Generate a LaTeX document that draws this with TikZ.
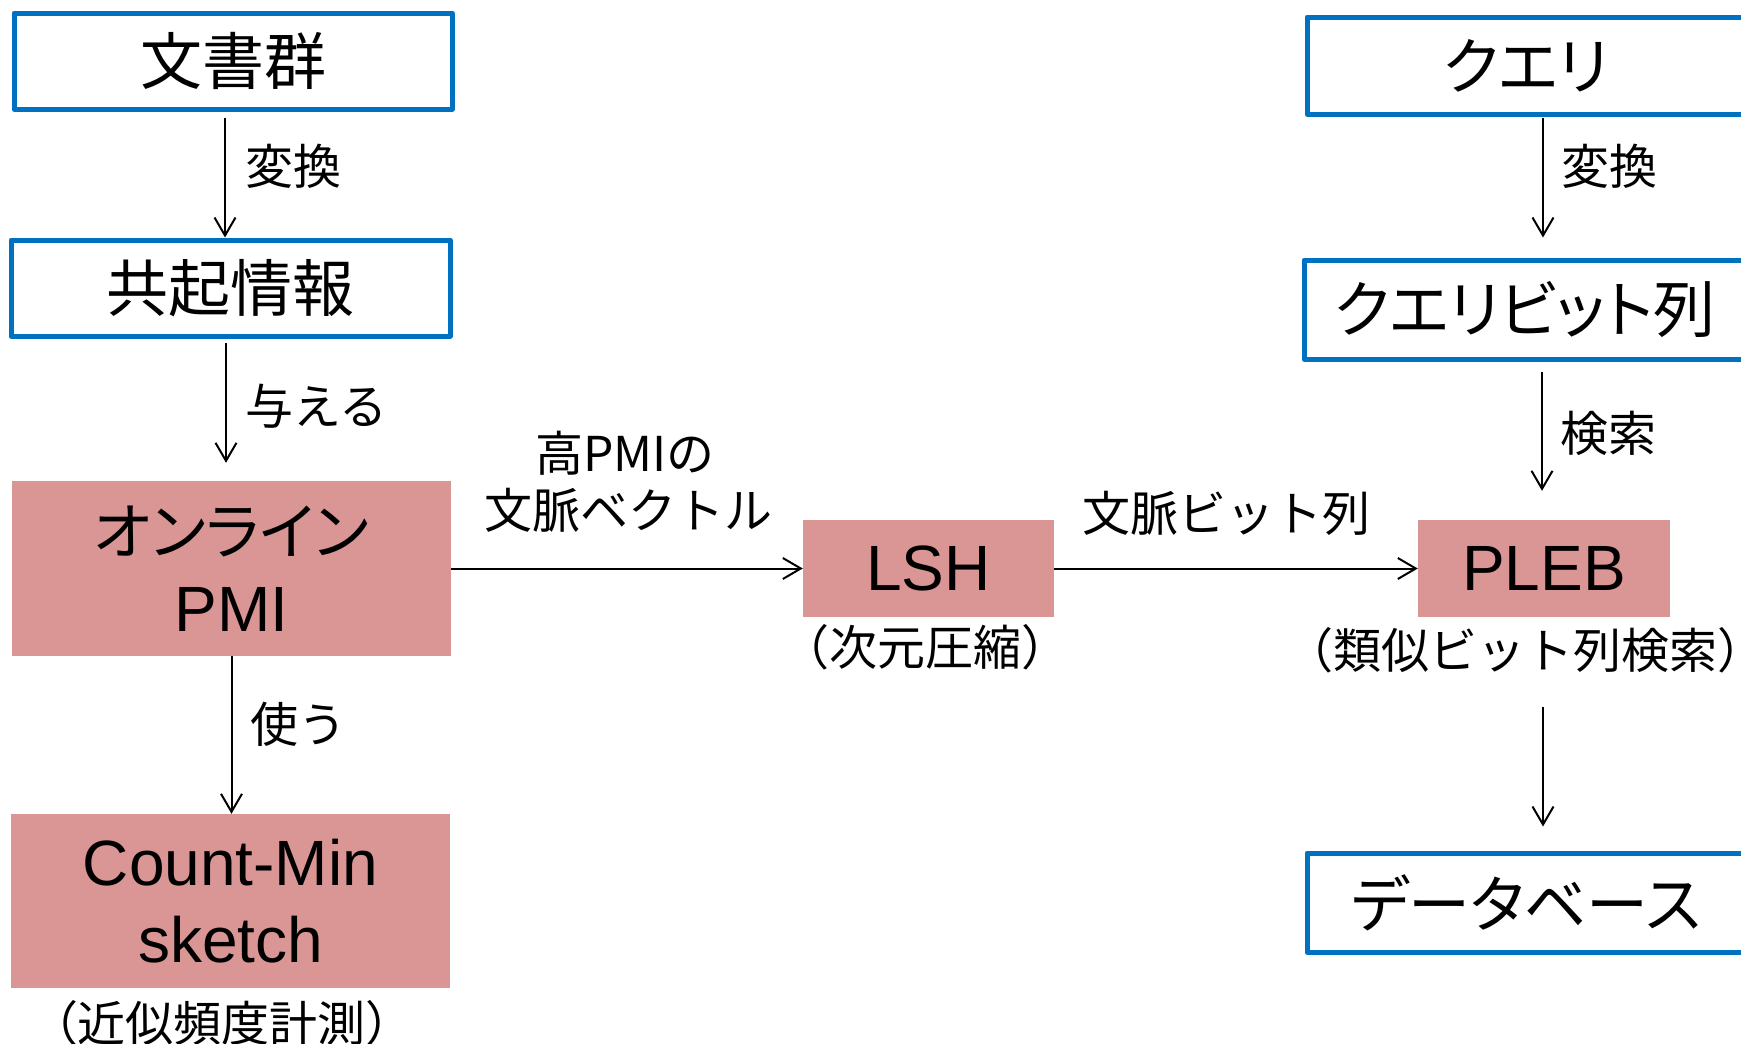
\documentclass[tikz,border=0pt]{standalone}
\usepackage{fontspec}
\setmainfont{Liberation Sans}
\newfontfamily\jp{Noto Sans CJK JP}
\newfontfamily\jpp[RawFeature=+palt]{Noto Sans CJK JP}
\usetikzlibrary{arrows.meta}
\definecolor{boxblue}{RGB}{0,112,192}
\definecolor{boxpink}{RGB}{217,150,148}
\begin{document}
\begin{tikzpicture}[x=1pt,y=-1pt,
  bluebox/.style={draw=boxblue, line width=5pt, fill=white, inner sep=0pt, line join=round,
    font=\jp\fontsize{62pt}{76pt}\selectfont},
  katabox/.style={bluebox, font=\jpp\fontsize{62pt}{76pt}\selectfont},
  pinkbox/.style={fill=boxpink, inner sep=0pt, align=center,
    font=\fontsize{64pt}{77pt}\selectfont},
  lbl/.style={inner sep=0pt, font=\jp\fontsize{48pt}{58pt}\selectfont},
  arr/.style={line width=2pt, -{Straight Barb[length=18pt,width=21pt,line width=2pt]}}]
\useasboundingbox (0,0) rectangle (1741,1044);
\clip (0,0) rectangle (1741,1044);

% left column
\node[bluebox, minimum width=438pt, minimum height=96pt] (b1) at (233,61) {文書群};
\node[bluebox, minimum width=439pt, minimum height=96pt] (b2) at (230.5,288) {共起情報};
\node[pinkbox, minimum width=439pt, minimum height=175pt] (b3) at (231.5,568.5) {{\jpp\fontsize{62pt}{76pt}\selectfont オンライン}\\PMI};
\node[pinkbox, minimum width=439pt, minimum height=174pt] (b4) at (230.5,901) {Count-Min\\sketch};
\node[lbl, anchor=south] (l4) at (222,1046) {（近似頻度計測）};

% middle
\node[pinkbox, minimum width=251pt, minimum height=97pt] (b5) at (928.5,568.5) {LSH};
\node[lbl] (l5) at (925,647.5) {（次元圧縮）};

% right column
\node[katabox, minimum width=438pt, minimum height=97pt] (b7) at (1526,65.5) {クエリ};
\node[katabox, minimum width=441pt, minimum height=99pt] (b8) at (1524.5,309.5) {クエリビット列};
\node[pinkbox, minimum width=252pt, minimum height=97pt] (b6) at (1544,568.5) {PLEB};
\node[lbl] (l6) at (1525,650) {（類似ビット列検索）};
\node[katabox, minimum width=438pt, minimum height=99pt] (b9) at (1526,902.5) {データベース};

% connectors
\coordinate (s1) at ([xshift=-8pt,yshift=-6pt]b1.south);
\draw[arr] (s1) -- (s1 |- b2.north);
\node[lbl, anchor=west] (t1) at (245,166) {変換};

\coordinate (s2) at ([xshift=-4.5pt,yshift=-4.5pt]b2.south);
\coordinate (e2) at ([yshift=18pt]b3.north);
\draw[arr] (s2) -- (s2 |- e2);
\node[lbl, anchor=west] (t2) at (245,406) {与える};

\draw[arr] (b3.south) -- (b3.south |- b4.north);
\node[lbl, anchor=west] (t3) at (250,724.5) {使う};

\draw[arr] (b3.east) -- (b5.west);
\node[lbl] (t4a) at (625,453) {高PMIの};
\node[lbl] (t4b) at (628,510) {文脈ベクトル};

\draw[arr] (b5.east) -- (b6.west);
\node[lbl] (t5) at (1226,513.5) {文脈ビット列};

\coordinate (s6) at ([xshift=17pt,yshift=-1.5pt]b7.south);
\coordinate (e6) at ([yshift=20pt]b8.north);
\draw[arr] (s6) -- (s6 |- e6);
\node[lbl, anchor=west] (t6) at (1561,166) {変換};

\coordinate (s7) at ([xshift=17.5pt,yshift=-10.5pt]b8.south);
\coordinate (e7) at ([yshift=29pt]b6.north);
\draw[arr] (s7) -- (s7 |- e7);
\node[lbl, anchor=west] (t7) at (1560,433.5) {検索};

\coordinate (s8) at ([xshift=-1pt,yshift=-90pt]b6.south);
\coordinate (e8) at ([yshift=24pt]b9.north);
\draw[arr] (s8) -- (s8 |- e8);
\end{tikzpicture}
\end{document}
